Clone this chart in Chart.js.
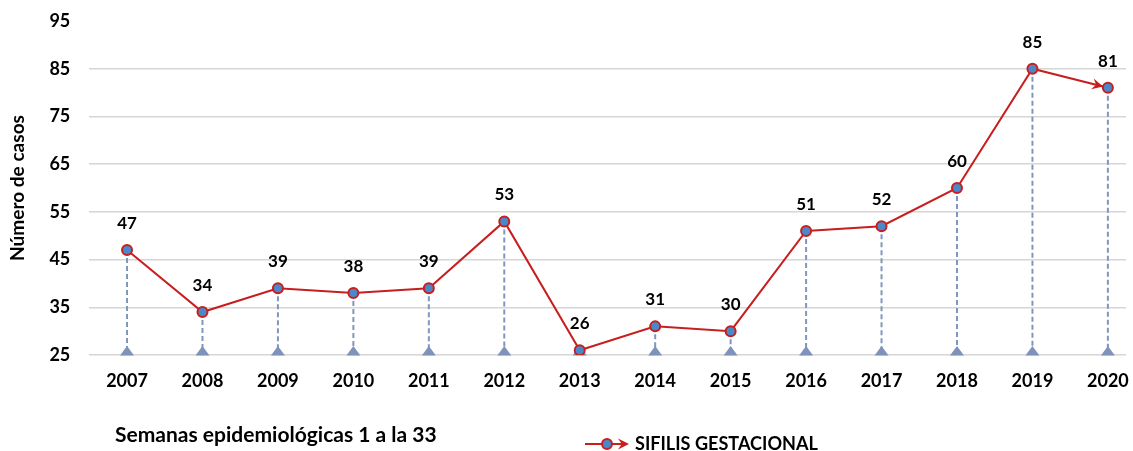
<!DOCTYPE html>
<html><head><meta charset="utf-8">
<script src="https://cdn.jsdelivr.net/npm/chart.js@4/dist/chart.umd.min.js"></script>
<style>html,body{margin:0;padding:0;background:#fff;overflow:hidden}#wrap{width:1133px;height:451px;position:relative}</style>
</head><body><div id="wrap"><canvas id="c"></canvas></div>
<script>
const years = [2007, 2008, 2009, 2010, 2011, 2012, 2013, 2014, 2015, 2016, 2017, 2018, 2019, 2020];
const casos = [47, 34, 39, 38, 39, 53, 26, 31, 30, 51, 52, 60, 85, 81];
const yTicks = [25, 35, 45, 55, 65, 75, 85, 95];
const seriesName = 'SIFILIS GESTACIONAL';
const xTitle = 'Semanas epidemiológicas 1 a la 33';
const yTitle = 'Número de casos';

const FONT = 'Lato, "Open Sans", "DejaVu Sans", sans-serif';
const RED = '#C81E1E';
const BLUE = '#4A89C9';
const DROP = '#8096BE';
const TRI = '#7F93BA';

const mctx = document.createElement('canvas').getContext('2d');
function fitSize(text, target) {
  mctx.font = 'bold 20px ' + FONT;
  return 20 * target / mctx.measureText(text).width;
}
const xTitleSize = fitSize(xTitle, 322);
const legendSize = fitSize(seriesName, 183);
const yTitleSize = fitSize(yTitle, 146);

function arrowHead(ctx, x0, y0, x1, y1, back) {
  const a = Math.atan2(y1 - y0, x1 - x0);
  const tx = x1 - Math.cos(a) * back, ty = y1 - Math.sin(a) * back;
  const L = 11, W = 5.5;
  const bx = tx - Math.cos(a) * L, by = ty - Math.sin(a) * L;
  const nx = -Math.sin(a), ny = Math.cos(a);
  ctx.beginPath();
  ctx.moveTo(tx, ty);
  ctx.lineTo(bx + nx * W, by + ny * W);
  ctx.lineTo(tx - Math.cos(a) * L * 0.65, ty - Math.sin(a) * L * 0.65);
  ctx.lineTo(bx - nx * W, by - ny * W);
  ctx.closePath();
  ctx.fill();
}

function noPad(s) { s.paddingTop = 0; s.paddingBottom = 0; s.paddingLeft = 0; s.paddingRight = 0; }

const deco = {
  id: 'deco',
  beforeDatasetsDraw(chart) {
    const { ctx, scales: { y } } = chart;
    const base = y.getPixelForValue(y.min);
    const pts = chart.getDatasetMeta(0).data;
    ctx.save();
    ctx.strokeStyle = DROP; ctx.lineWidth = 2; ctx.setLineDash([5, 3]);
    pts.forEach(p => { ctx.beginPath(); ctx.moveTo(p.x, p.y); ctx.lineTo(p.x, base); ctx.stroke(); });
    ctx.setLineDash([]);
    ctx.fillStyle = TRI;
    pts.forEach(p => {
      ctx.beginPath(); ctx.moveTo(p.x - 7, base + 0.5); ctx.lineTo(p.x + 7, base + 0.5); ctx.lineTo(p.x, base - 9); ctx.closePath(); ctx.fill();
    });
    const n = pts.length;
    ctx.fillStyle = RED;
    arrowHead(ctx, pts[n - 2].x, pts[n - 2].y, pts[n - 1].x, pts[n - 1].y, 5);
    ctx.restore();
  },
  afterDatasetsDraw(chart) {
    const { ctx } = chart;
    const pts = chart.getDatasetMeta(0).data;
    ctx.save();
    ctx.font = 'bold 17px ' + FONT;
    ctx.fillStyle = '#000';
    ctx.textAlign = 'center'; ctx.textBaseline = 'middle';
    pts.forEach((p, i) => ctx.fillText(String(casos[i]), p.x, p.y - 26.5));
    ctx.restore();
  },
  afterDraw(chart) {
    const { ctx } = chart;
    ctx.save();
    ctx.fillStyle = '#000';
    ctx.textBaseline = 'middle'; ctx.textAlign = 'left';
    ctx.font = 'bold ' + xTitleSize.toFixed(2) + 'px ' + FONT;
    ctx.fillText(xTitle, 115, 435);
    // legend
    ctx.strokeStyle = RED; ctx.lineWidth = 2;
    ctx.beginPath(); ctx.moveTo(585, 444); ctx.lineTo(626, 444); ctx.stroke();
    ctx.fillStyle = RED;
    arrowHead(ctx, 585, 444, 629, 444, 0);
    ctx.beginPath(); ctx.arc(607, 444, 5, 0, Math.PI * 2);
    ctx.fillStyle = BLUE; ctx.fill(); ctx.lineWidth = 2; ctx.strokeStyle = RED; ctx.stroke();
    ctx.fillStyle = '#000';
    ctx.font = 'bold ' + legendSize.toFixed(2) + 'px ' + FONT;
    ctx.fillText(seriesName, 635, 444);
    ctx.restore();
  }
};

new Chart(document.getElementById('c'), {
  type: 'line',
  data: {
    datasets: [{
      label: seriesName,
      data: years.map((yr, i) => ({ x: yr, y: casos[i] })),
      borderColor: RED,
      borderWidth: 2,
      pointRadius: 5,
      pointBackgroundColor: BLUE,
      pointBorderColor: RED,
      pointBorderWidth: 2,
      tension: 0,
      fill: false
    }]
  },
  options: {
    responsive: true,
    maintainAspectRatio: false,
    animation: false,
    layout: { padding: { top: 21, right: 0, left: 0, bottom: 0 } },
    plugins: { legend: { display: false }, tooltip: { enabled: false } },
    scales: {
      x: {
        type: 'linear',
        min: 2006.5,
        max: 2020.24,
        afterBuildTicks: s => { s.ticks = years.map(v => ({ value: v })); },
        afterFit: s => { s.height = 96; noPad(s); },
        grid: { display: false, drawTicks: false },
        border: { display: false },
        ticks: { padding: 15, color: '#000', font: { family: FONT, size: 18, weight: 'bold' }, callback: v => String(v), maxRotation: 0, autoSkip: false }
      },
      y: {
        min: 25,
        max: 95,
        afterBuildTicks: s => { s.ticks = yTicks.map(v => ({ value: v })); },
        afterFit: s => { s.width = 89.3; noPad(s); },
        grid: { color: c => (c.tick && c.tick.value === 95) ? 'rgba(0,0,0,0)' : '#D6D6D6', lineWidth: 1.5, drawTicks: false },
        border: { display: false },
        ticks: { padding: 19, color: '#000', font: { family: FONT, size: 18, weight: 'bold' } },
        title: { display: true, text: yTitle, color: '#000', font: { family: FONT, size: yTitleSize, weight: 'bold' }, padding: { top: 6, bottom: 0 } }
      }
    }
  },
  plugins: [deco]
});
</script>
</body></html>
